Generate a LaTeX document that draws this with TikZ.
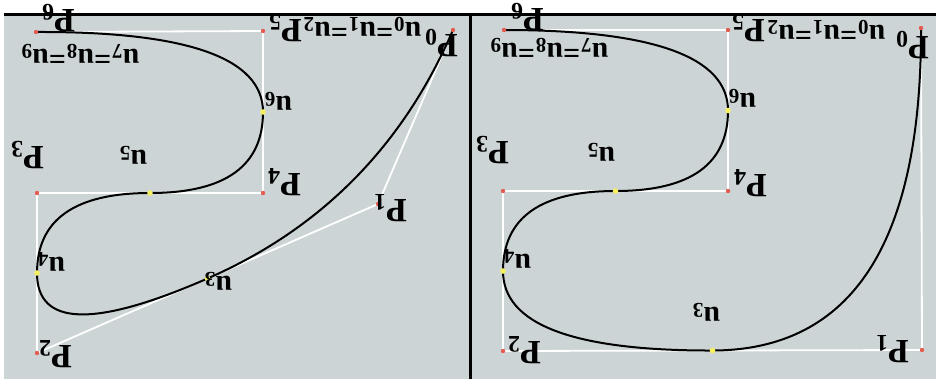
\documentclass[tikz,border=0pt]{standalone}
\usepackage{fontspec}
\setmainfont{Liberation Serif}
\usetikzlibrary{calc}
\definecolor{panelgray}{RGB}{205,212,213}
\definecolor{ptred}{RGB}{228,92,80}
\definecolor{knotyellow}{RGB}{246,240,96}
\begin{document}
\begin{tikzpicture}[
 x=0.5pt, y=-0.5pt,
 lbl/.style={rotate=180, inner sep=0pt, font=\fontsize{15}{15}\selectfont\bfseries},
 plbl/.style={lbl, font=\fontsize{17}{17}\selectfont\bfseries},
 ctrl/.style={draw=white, line width=0.9pt},
 spline/.style={draw=black, line width=1pt},
 cdot/.style={circle, fill=ptred, inner sep=0pt, minimum size=2.2pt},
 kdot/.style={circle, fill=knotyellow, inner sep=0pt, minimum size=2.8pt},
 frame/.style={draw=black, line width=1.5pt}]
\useasboundingbox (0,0) rectangle (936,381);
\fill[white] (0,0) rectangle (936,381);
\fill[panelgray] (4,14) rectangle (936,379);
\draw[frame] (4,14) -- (936,14);
\draw[frame] (470,14) -- (470,379);
% control points, left and right panel
\coordinate (L0) at (453,30);  \coordinate (L1) at (378,204);
\coordinate (L2) at (37,353);  \coordinate (L3) at (37,193);
\coordinate (L4) at (263,193); \coordinate (L5) at (263,31);
\coordinate (L6) at (36,32);
\coordinate (R0) at (921,28);  \coordinate (R1) at (922,350);
\coordinate (R2) at (503,351); \coordinate (R3) at (503,191);
\coordinate (R4) at (728,191); \coordinate (R5) at (728,30);
\coordinate (R6) at (504,30);
\foreach \s in {L,R} {
  % knots of the uniform quadratic spline
  \coordinate (\s u3) at ($(\s1)!0.5!(\s2)$);
  \coordinate (\s u4) at ($(\s2)!0.5!(\s3)$);
  \coordinate (\s u5) at ($(\s3)!0.5!(\s4)$);
  \coordinate (\s u6) at ($(\s4)!0.5!(\s5)$);
  \draw[ctrl] (\s0) -- (\s1) -- (\s2) -- (\s3) -- (\s4) -- (\s5) -- (\s6);
  \draw[spline] (\s0)
    .. controls ($(\s0)!2/3!(\s1)$) and ($(\s u3)!2/3!(\s1)$) .. (\s u3)
    .. controls ($(\s u3)!2/3!(\s2)$) and ($(\s u4)!2/3!(\s2)$) .. (\s u4)
    .. controls ($(\s u4)!2/3!(\s3)$) and ($(\s u5)!2/3!(\s3)$) .. (\s u5)
    .. controls ($(\s u5)!2/3!(\s4)$) and ($(\s u6)!2/3!(\s4)$) .. (\s u6)
    .. controls ($(\s u6)!2/3!(\s5)$) and ($(\s6)!2/3!(\s5)$) .. (\s6);
  \foreach \i in {0,...,6} \node[cdot] at (\s\i) {};
  \foreach \i in {3,...,6} \node[kdot] at (\s u\i) {};
}
% labels, left panel
\node[plbl] (lp0) at (441,43) {P\textsubscript{0}};
\node[plbl] (lp1) at (390,208) {P\textsubscript{1}};
\node[plbl] (lp2) at (55,354) {P\textsubscript{2}};
\node[plbl] (lp3) at (27,155) {P\textsubscript{3}};
\node[plbl] (lp4) at (284,182) {P\textsubscript{4}};
\node[plbl] (lp5) at (285,28) {P\textsubscript{5}};
\node[plbl] (lp6) at (58,18) {P\textsubscript{6}};
\node[lbl] (lk0) at (362,27) {u\textsubscript{0}=u\textsubscript{1}=u\textsubscript{2}};
\node[lbl] (lk3) at (218,281) {u\textsubscript{3}};
\node[lbl] (lk4) at (51,262) {u\textsubscript{4}};
\node[lbl] (lk5) at (133,155) {u\textsubscript{5}};
\node[lbl] (lk6) at (278,101) {u\textsubscript{6}};
\node[lbl] (lk7) at (80,54) {u\textsubscript{7}=u\textsubscript{8}=u\textsubscript{9}};
% labels, right panel
\node[plbl] (rp0) at (912,45) {P\textsubscript{0}};
\node[plbl] (rp1) at (892,349) {P\textsubscript{1}};
\node[plbl] (rp2) at (524,350) {P\textsubscript{2}};
\node[plbl] (rp3) at (492,150) {P\textsubscript{3}};
\node[plbl] (rp4) at (750,183) {P\textsubscript{4}};
\node[plbl] (rp5) at (748,28) {P\textsubscript{5}};
\node[plbl] (rp6) at (527,17) {P\textsubscript{6}};
\node[lbl] (rk0) at (826,30) {u\textsubscript{0}=u\textsubscript{1}=u\textsubscript{2}};
\node[lbl] (rk3) at (706,312) {u\textsubscript{3}};
\node[lbl] (rk4) at (517,259) {u\textsubscript{4}};
\node[lbl] (rk5) at (601,152) {u\textsubscript{5}};
\node[lbl] (rk6) at (742,98) {u\textsubscript{6}};
\node[lbl] (rk7) at (549,48) {u\textsubscript{7}=u\textsubscript{8}=u\textsubscript{9}};
\end{tikzpicture}
\end{document}
